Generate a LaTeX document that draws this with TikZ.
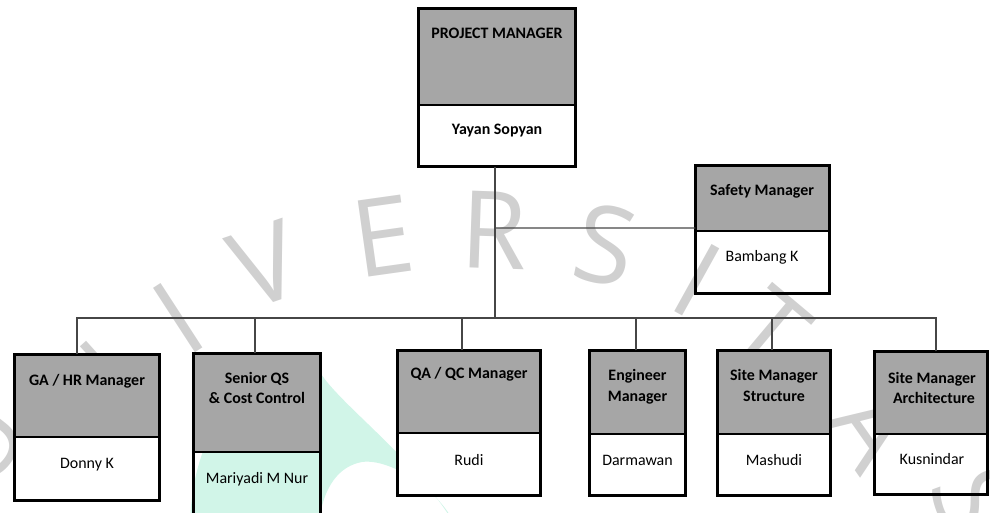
\documentclass[tikz,border=0pt]{standalone}
\usepackage{fontspec}
\setmainfont{Carlito}
\newfontfamily\wmfont{Open Sans}
\usetikzlibrary{fit}
\definecolor{boxgray}{RGB}{166,166,166}
\definecolor{connline}{RGB}{70,70,70}
\definecolor{wmgray}{RGB}{208,208,208}
\definecolor{wmteal}{RGB}{209,245,232}

% one chart box: name, left, top, right, divider, bottom (outer edges)
\newcommand\orgbox[6]{%
  \fill[boxgray] (#2,#3) rectangle (#4,#5);
  \node[frame, fit={(#2+1.3,#3+1.3) (#4-1.3,#6-1.3)}] (#1) {};
  \draw[black, line width=2.6bp] (#2+1.3,#5) -- (#4-1.3,#5);
}

\begin{document}
\begin{tikzpicture}[x=1bp,y=-1bp,
  frame/.style={draw=black, line width=2.6bp, inner sep=0pt, outer sep=0pt},
  conn/.style={draw=connline, line width=1.1bp},
  ttl/.style={font=\bfseries\fontsize{16}{20}\selectfont, inner sep=0pt, anchor=base},
  who/.style={font=\fontsize{16}{20}\selectfont, inner sep=0pt, anchor=base},
  wm/.style={text=wmgray, font=\wmfont\fontsize{108}{108}\selectfont, inner sep=0pt},
]
\useasboundingbox (0,0) rectangle (990,513);
\clip (0,0) rectangle (990,513);

% background crescent
\fill[wmteal] (190,530) .. controls (190,420) and (255,358) .. (315,362)
  .. controls (325,395) and (410,450) .. (455,525)
  .. controls (440,490) and (390,458) .. (362,462)
  .. controls (340,466) and (322,485) .. (318,530) -- cycle;

% background lettering
\node[wm, rotate=52]  (l1)  at (-20,440) {U};
\node[wm, rotate=42]  (l2)  at (90,390)  {N};
\node[wm, rotate=33]  (l3)  at (178,318) {I};
\node[wm, rotate=19]  (l4)  at (265,265) {V};
\node[wm, rotate=8]   (l5)  at (383,236) {E};
\node[wm, rotate=-2]  (l6)  at (494,230) {R};
\node[wm, rotate=-12] (l7)  at (605,245) {S};
\node[wm, rotate=-29] (l8)  at (697,280) {I};
\node[wm, rotate=-40] (l9)  at (770,330) {T};
\node[wm, rotate=-55] (l10) at (873,428) {A};
\node[wm, rotate=-70] (l11) at (975,500) {S};

% opaque lower halves
\fill[white] (13,437) rectangle (161,502);
\fill[white] (396,433) rectangle (542,497);

% boxes
\orgbox{pm}{417}{7}{577}{105}{168}
\orgbox{safety}{694}{164}{831}{231}{295}
\orgbox{ga}{13}{353}{161}{437}{502}
\orgbox{qs}{192}{352}{322}{452}{540}
\orgbox{qa}{396}{349}{542}{433}{497}
\orgbox{eng}{588}{349}{687}{434}{497}
\orgbox{sms}{716}{349}{832}{434}{497}
\orgbox{sma}{873}{350}{989}{434}{496}

% texts
\node[ttl] (pmt)  at (497,39)  {PROJECT MANAGER};
\node[ttl] (pmn)  at (497,135) {Yayan Sopyan};
\node[ttl] (sft)  at (762,196) {Safety Manager};
\node[who] (sfn)  at (762,262) {Bambang K};
\node[ttl] (gat)  at (87,386)  {GA / HR Manager};
\node[who] (gan)  at (87,468)  {Donny K};
\node[ttl] (qst1) at (257,384) {Senior QS};
\node[ttl] (qst2) at (257,403) {\& Cost Control};
\node[who] (qsn)  at (257,483) {Mariyadi M Nur};
\node[ttl] (qat)  at (469,379) {QA / QC Manager};
\node[who] (qan)  at (469,465) {Rudi};
\node[ttl] (ent1) at (637.5,381) {Engineer};
\node[ttl] (ent2) at (637.5,401) {Manager};
\node[who] (enn)  at (637.5,465) {Darmawan};
\node[ttl] (sst1) at (774,381) {Site Manager};
\node[ttl] (sst2) at (774,401) {Structure};
\node[who] (ssn)  at (774,465) {Mashudi};
\node[ttl] (sat1) at (932,383.5) {Site Manager};
\node[ttl] (sat2) at (934,403) {Architecture};
\node[who] (san)  at (932,464) {Kusnindar};

% connectors
\coordinate (hub) at (495,318);
\draw[conn] (pm.south -| hub) -- (hub);
\draw[conn] (hub |- safety.west) ++(0,-1.5) -- ([yshift=1.5bp]safety.west);
\draw[conn] ([xshift=-10bp]ga.north) |- (hub);
\draw[conn] ([xshift=-2bp]qs.north) |- (hub);
\draw[conn] ([xshift=-7bp]qa.north) |- (hub);
\draw[conn] ([xshift=-1.5bp]eng.north) |- (hub);
\draw[conn] ([xshift=-2bp]sms.north) |- (hub);
\draw[conn] ([xshift=5bp]sma.north) |- (hub);
\end{tikzpicture}
\end{document}
